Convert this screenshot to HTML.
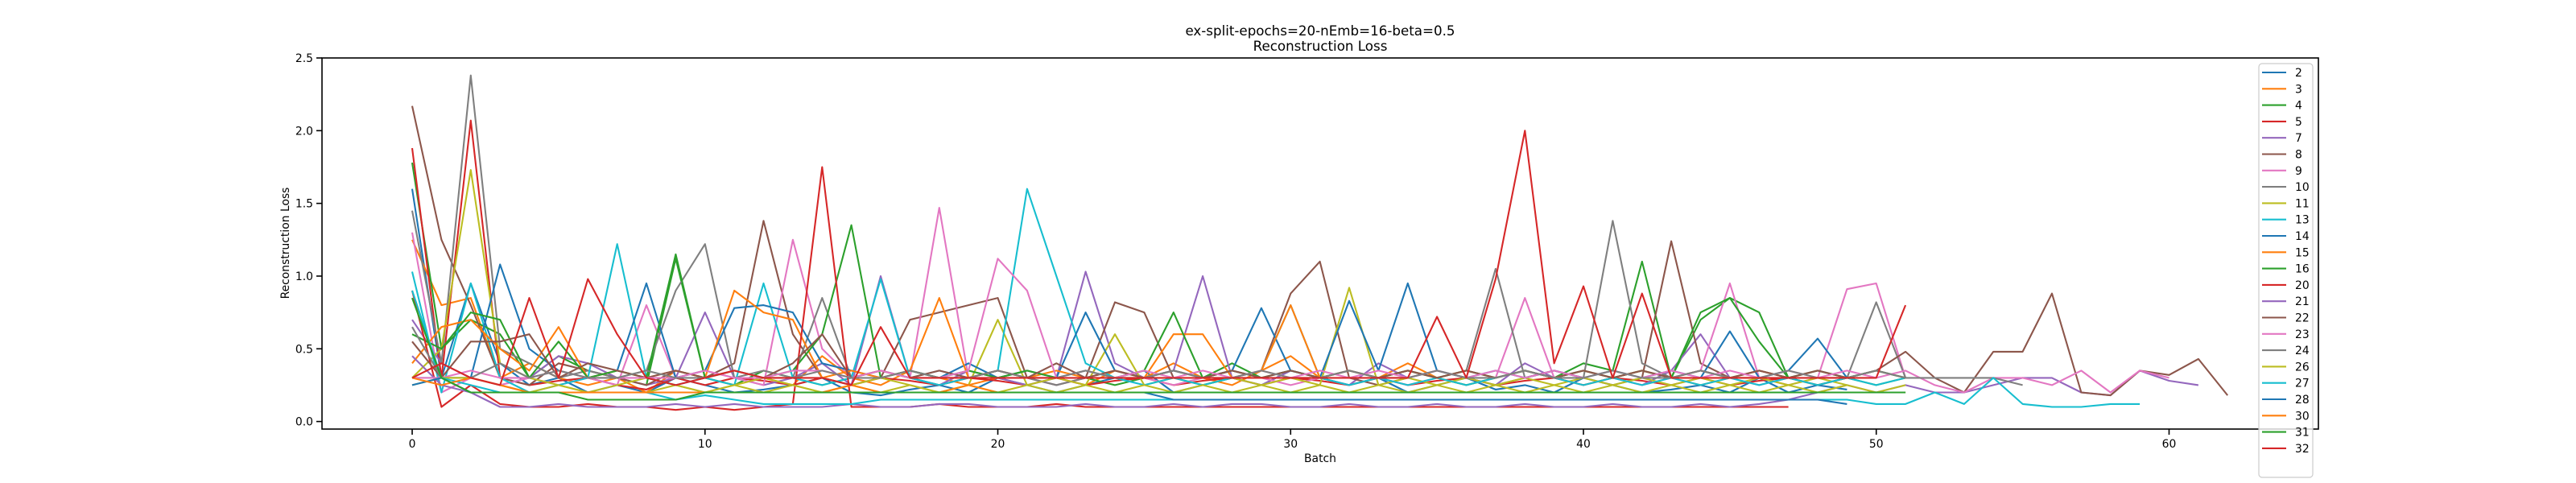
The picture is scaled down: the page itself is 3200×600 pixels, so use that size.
<!DOCTYPE html>
<html><head><meta charset="utf-8"><style>
html,body{margin:0;padding:0;background:#fff;}
svg{display:block;font-family:"DejaVu Sans","Liberation Sans",sans-serif;}
</style></head><body>
<svg id="chart" width="3200" height="600" viewBox="0 0 3200 600" xmlns="http://www.w3.org/2000/svg">
<rect width="3200" height="600" fill="#fff"/>
<text x="1640" y="44" font-size="16.7" text-anchor="middle">ex-split-epochs=20-nEmb=16-beta=0.5</text>
<text x="1640" y="63" font-size="16.7" text-anchor="middle">Reconstruction Loss</text>
<g id="series"></g>
<g id="axes"></g>
<text x="1640" y="574" font-size="13.9" text-anchor="middle">Batch</text>
<text transform="translate(359,302) rotate(-90)" font-size="13.9" text-anchor="middle">Reconstruction Loss</text>
<g id="legend"></g>
</svg>
<script>
const labels = ["2","3","4","5","7","8","9","10","11","13","14","15","16","20","21","22","23","24","26","27","28","30","31","32"];
const colors = ["#1f77b4","#ff7f0e","#2ca02c","#d62728","#9467bd","#8c564b","#e377c2","#7f7f7f","#bcbd22","#17becf"];
const s2=[1.6,0.3,0.95,0.4,0.25,0.3,0.2,0.25,0.2,0.3,0.25,0.2,0.22,0.25,0.3,0.2,0.18,0.22,0.25,0.2,0.3,0.25,0.2,0.25,0.3,0.35,0.2,0.25,0.3,0.25,0.35,0.3,0.25,0.3,0.2,0.25,0.3,0.22,0.25,0.2,0.3,0.25,0.2,0.22,0.25,0.2,0.3,0.2,0.25,0.22];
const s3=[1.25,0.8,0.85,0.3,0.4,0.3,0.25,0.3,0.2,0.35,0.3,0.25,0.3,0.25,0.45,0.3,0.25,0.35,0.3,0.25,0.3,0.35,0.3,0.25,0.35,0.3,0.4,0.3,0.25,0.35,0.45,0.3,0.35,0.3,0.4,0.3,0.25,0.3,0.35,0.3,0.25,0.3,0.35,0.3,0.25,0.3,0.3,0.25];
const s4=[1.78,0.5,0.7,0.6,0.3,0.45,0.35,0.3,0.25,1.12,0.3,0.25,0.35,0.3,0.25,0.3,0.35,0.3,0.25,0.3,0.35,0.3,0.25,0.3,0.25,0.3,0.35,0.3,0.4,0.3,0.35,0.3,0.25,0.3,0.35,0.3,0.25,0.3,0.35,0.3,0.4,0.35,1.1,0.3,0.7,0.85,0.75,0.3,0.25,0.3,0.25,0.3];
const s5=[1.88,0.3,2.07,0.3,0.25,0.28,0.3,0.25,0.22,0.3,0.25,0.3,0.28,0.25,0.3,0.25,0.3,0.28,0.25,0.3,0.28,0.25,0.3,0.25,0.28,0.3,0.25,0.28,0.3,0.25,0.3,0.28,0.25,0.3,0.25,0.28,0.3,0.25,0.28,0.3,0.25,0.3,0.28,0.25,0.3,0.25,0.28,0.3,0.25,0.3];
const s7=[0.7,0.4,0.3,0.25,0.3,0.45,0.4,0.3,0.25,0.3,0.75,0.3,0.25,0.3,0.4,0.25,1.0,0.3,0.25,0.35,0.3,0.25,0.3,1.03,0.4,0.3,0.35,1.0,0.3,0.25,0.35,0.3,0.25,0.4,0.3,0.35,0.3,0.25,0.4,0.3,0.35,0.3,0.25,0.35,0.6,0.3,0.25,0.3,0.35,0.3];
const s8=[2.17,1.25,0.8,0.3,0.25,0.4,0.35,0.3,0.25,0.35,0.3,0.4,1.38,0.6,0.3,0.25,0.3,0.7,0.75,0.8,0.85,0.3,0.25,0.3,0.82,0.75,0.3,0.25,0.3,0.35,0.88,1.1,0.3,0.25,0.3,0.35,0.3,0.25,0.3,0.35,0.3,0.25,0.3,1.24,0.4,0.3,0.35,0.3,0.25,0.3,0.35,0.3];
const s9=[1.3,0.2,0.3,0.25,0.3,0.25,0.3,0.25,0.8,0.3,0.35,0.3,0.25,1.25,0.5,0.3,0.35,0.3,1.47,0.3,0.35,0.3,0.25,0.3,0.35,0.3,0.25,0.3,0.35,0.3,0.25,0.3,0.35,0.3,0.25,0.3,0.35,0.3,0.85,0.3,0.35,0.3,0.25,0.3,0.35,0.95,0.3,0.25,0.3,0.91,0.95,0.3];
const s10=[1.45,0.4,2.38,0.5,0.4,0.3,0.35,0.3,0.35,0.9,1.22,0.3,0.35,0.3,0.85,0.3,0.35,0.3,0.35,0.3,0.35,0.3,0.25,0.3,0.35,0.3,0.35,0.3,0.35,0.3,0.35,0.3,0.35,0.3,0.35,0.3,0.35,1.05,0.3,0.35,0.3,1.38,0.4,0.3,0.35,0.3,0.35,0.3,0.35,0.3,0.82,0.3];
const s11=[0.3,0.5,1.73,0.4,0.3,0.25,0.2,0.25,0.3,0.25,0.2,0.25,0.3,0.25,0.2,0.25,0.3,0.25,0.2,0.25,0.7,0.25,0.3,0.25,0.6,0.25,0.3,0.25,0.3,0.25,0.3,0.25,0.92,0.25,0.3,0.25,0.3,0.25,0.3,0.25,0.3,0.25,0.3,0.25,0.3,0.25,0.3,0.25,0.3,0.25];
const s13=[1.03,0.2,0.95,0.3,0.2,0.25,0.3,1.22,0.3,0.25,0.3,0.25,0.95,0.3,0.25,0.3,0.98,0.3,0.25,0.3,0.35,1.6,1.0,0.4,0.3,0.25,0.3,0.25,0.3,0.35,0.8,0.3,0.25,0.3,0.25,0.3,0.25,0.3,0.35,0.3,0.25,0.3,0.25,0.3,0.25,0.3,0.25,0.3,0.25,0.3,0.25,0.3];
const s14=[0.3,0.3,0.3,1.08,0.5,0.35,0.3,0.35,0.95,0.3,0.35,0.78,0.8,0.75,0.4,0.35,0.3,0.35,0.3,0.4,0.3,0.35,0.3,0.75,0.35,0.3,0.35,0.3,0.35,0.78,0.35,0.3,0.83,0.35,0.95,0.35,0.3,0.35,0.3,0.35,0.3,0.35,0.3,0.35,0.3,0.62,0.3,0.35,0.57,0.3,0.35,0.3];
const s15=[0.4,0.65,0.7,0.5,0.35,0.65,0.3,0.35,0.3,0.35,0.3,0.9,0.75,0.7,0.3,0.35,0.3,0.35,0.85,0.3,0.35,0.3,0.35,0.3,0.35,0.3,0.6,0.6,0.3,0.35,0.8,0.3,0.35,0.3,0.35,0.3,0.35,0.3,0.35,0.3,0.35,0.3,0.35,0.3,0.35,0.3,0.35,0.3,0.35,0.3,0.35,0.3];
const s16=[0.6,0.5,0.75,0.7,0.3,0.55,0.3,0.35,0.3,1.15,0.3,0.35,0.3,0.35,0.6,1.35,0.3,0.35,0.3,0.35,0.3,0.35,0.3,0.35,0.3,0.35,0.75,0.3,0.35,0.3,0.35,0.3,0.35,0.3,0.35,0.3,0.35,0.3,0.35,0.3,0.35,0.3,0.35,0.3,0.75,0.85,0.55,0.3,0.35,0.3,0.35,0.3];
const s20=[0.9,0.1,0.25,0.12,0.1,0.1,0.12,0.1,0.1,0.08,0.1,0.08,0.1,0.12,1.75,0.1,0.1,0.1,0.12,0.1,0.1,0.1,0.12,0.1,0.1,0.1,0.1,0.1,0.1,0.1,0.1,0.1,0.1,0.1,0.1,0.1,0.1,0.1,0.1,0.1,0.1,0.1,0.1,0.1,0.1,0.1,0.1,0.1];
const s21=[0.45,0.25,0.2,0.1,0.1,0.12,0.1,0.1,0.1,0.12,0.1,0.12,0.1,0.1,0.1,0.12,0.1,0.1,0.12,0.12,0.1,0.1,0.1,0.12,0.1,0.1,0.12,0.1,0.12,0.12,0.1,0.1,0.12,0.1,0.1,0.12,0.1,0.1,0.12,0.1,0.1,0.12,0.1,0.1,0.12,0.1,0.12,0.15,0.2,0.25,0.2,0.25,0.2,0.2,0.25,0.3,0.3,0.2,0.18,0.35,0.28,0.25];
const s22=[0.55,0.3,0.55,0.55,0.6,0.3,0.4,0.35,0.3,0.35,0.3,0.35,0.3,0.4,0.6,0.3,0.35,0.3,0.35,0.3,0.35,0.3,0.4,0.3,0.35,0.3,0.35,0.3,0.35,0.3,0.35,0.3,0.35,0.3,0.35,0.3,0.35,0.3,0.35,0.3,0.35,0.3,0.35,0.3,0.35,0.3,0.35,0.3,0.35,0.3,0.35,0.48,0.3,0.2,0.48,0.48,0.88,0.2,0.18,0.35,0.32,0.43,0.18];
const s23=[0.3,0.3,0.35,0.3,0.3,0.35,0.3,0.3,0.3,0.3,0.35,0.3,0.3,0.35,0.35,0.3,0.35,0.3,0.3,0.35,1.12,0.9,0.3,0.35,0.3,0.35,0.3,0.35,0.3,0.35,0.3,0.35,0.3,0.35,0.3,0.35,0.3,0.35,0.3,0.35,0.3,0.35,0.3,0.35,0.3,0.35,0.3,0.35,0.3,0.35,0.3,0.35,0.25,0.2,0.3,0.3,0.25,0.35,0.2,0.35,0.3];
const s24=[0.65,0.3,0.3,0.4,0.3,0.35,0.3,0.3,0.35,0.3,0.3,0.35,0.3,0.3,0.35,0.3,0.3,0.35,0.3,0.3,0.35,0.3,0.3,0.35,0.3,0.3,0.35,0.3,0.3,0.35,0.3,0.3,0.35,0.3,0.3,0.35,0.3,0.3,0.35,0.3,0.3,0.35,0.3,0.3,0.35,0.3,0.3,0.35,0.3,0.3,0.35,0.3,0.3,0.3,0.3,0.25];
const s26=[0.25,0.3,0.3,0.25,0.2,0.25,0.2,0.2,0.2,0.25,0.2,0.25,0.2,0.25,0.2,0.25,0.2,0.25,0.2,0.25,0.2,0.25,0.2,0.25,0.2,0.25,0.2,0.25,0.2,0.25,0.2,0.25,0.2,0.25,0.2,0.25,0.2,0.25,0.2,0.25,0.2,0.25,0.2,0.25,0.2,0.25,0.2,0.25,0.2,0.25,0.2,0.25];
const s27=[0.9,0.3,0.25,0.2,0.2,0.2,0.2,0.2,0.2,0.15,0.18,0.15,0.12,0.12,0.12,0.12,0.15,0.15,0.15,0.15,0.15,0.15,0.15,0.15,0.15,0.15,0.15,0.15,0.15,0.15,0.15,0.15,0.15,0.15,0.15,0.15,0.15,0.15,0.15,0.15,0.15,0.15,0.15,0.15,0.15,0.15,0.15,0.15,0.15,0.15,0.12,0.12,0.2,0.12,0.3,0.12,0.1,0.1,0.12,0.12];
const s28=[0.25,0.3,0.2,0.2,0.2,0.2,0.2,0.2,0.2,0.2,0.2,0.2,0.2,0.2,0.2,0.2,0.2,0.2,0.2,0.2,0.2,0.2,0.2,0.2,0.2,0.2,0.15,0.15,0.15,0.15,0.15,0.15,0.15,0.15,0.15,0.15,0.15,0.15,0.15,0.15,0.15,0.15,0.15,0.15,0.15,0.15,0.15,0.15,0.15,0.12];
const s30=[0.3,0.25,0.3,0.25,0.2,0.2,0.2,0.2,0.2,0.2,0.2,0.2,0.2,0.2,0.2,0.25,0.2,0.2,0.2,0.25,0.2,0.2,0.2,0.2,0.2,0.2,0.2,0.2,0.2,0.2,0.2,0.2,0.2,0.2,0.2,0.2,0.2,0.2,0.2,0.2,0.2,0.2,0.2,0.2,0.2,0.2,0.2,0.2,0.2,0.2,0.2,0.2];
const s31=[0.85,0.3,0.2,0.2,0.2,0.2,0.15,0.15,0.15,0.15,0.2,0.2,0.2,0.2,0.2,0.2,0.2,0.2,0.2,0.2,0.2,0.2,0.2,0.2,0.2,0.2,0.2,0.2,0.2,0.2,0.2,0.2,0.2,0.2,0.2,0.2,0.2,0.2,0.2,0.2,0.2,0.2,0.2,0.2,0.2,0.2,0.2,0.2,0.2,0.2,0.2,0.2];
const s32=[0.3,0.4,0.3,0.25,0.85,0.3,0.98,0.6,0.3,0.25,0.3,0.35,0.3,0.3,0.3,0.25,0.65,0.3,0.3,0.3,0.3,0.3,0.3,0.3,0.3,0.3,0.3,0.3,0.3,0.3,0.3,0.3,0.3,0.3,0.3,0.72,0.3,0.98,2.0,0.4,0.93,0.3,0.88,0.3,0.3,0.3,0.3,0.3,0.3,0.3,0.3,0.8];
const seriesValues=[s2,s3,s4,s5,s7,s8,s9,s10,s11,s13,s14,s15,s16,s20,s21,s22,s23,s24,s26,s27,s28,s30,s31,s32];
const xTicks=[0,10,20,30,40,50,60];
const yTicks=[0.0,0.5,1.0,1.5,2.0,2.5];

const NS="http://www.w3.org/2000/svg";
const PL=400,PR=2880,PT=72,PB=533;
const XMIN=-3.08,XMAX=65.1,YMIN=-0.052,YMAX=2.5;
function xs(v){return PL+(v-XMIN)/(XMAX-XMIN)*(PR-PL);}
function ys(v){return PB-(v-YMIN)/(YMAX-YMIN)*(PB-PT);}
function mk(tag,attrs,parent){const e=document.createElementNS(NS,tag);for(const k in attrs)e.setAttribute(k,attrs[k]);parent.appendChild(e);return e;}

const sg=document.getElementById('series');
seriesValues.forEach((vals,i)=>{
  const d=vals.map((v,j)=>(j?'L':'M')+xs(j).toFixed(1)+' '+ys(v).toFixed(1)).join(' ');
  const p=mk('path',{d:d,fill:'none',stroke:colors[i%10],'stroke-width':2.1,'stroke-linejoin':'round'},sg);
  
  
});

const ag=document.getElementById('axes');
const frame=mk('rect',{x:PL,y:PT,width:PR-PL,height:PB-PT,fill:'none',stroke:'#000','stroke-width':1.6},ag);


xTicks.forEach(t=>{
  const x=xs(t);
  mk('line',{x1:x,x2:x,y1:PB,y2:PB+7,stroke:'#000','stroke-width':1.6},ag);
  const tx=mk('text',{x:x,y:PB+23,'font-size':13.9,'text-anchor':'middle'},ag);
  tx.textContent=String(t);
  
  
});
yTicks.forEach(t=>{
  const y=ys(t);
  mk('line',{x1:PL-7,x2:PL,y1:y,y2:y,stroke:'#000','stroke-width':1.6},ag);
  const tx=mk('text',{x:PL-11,y:y+5,'font-size':13.9,'text-anchor':'end'},ag);
  tx.textContent=t.toFixed(1);
  
  
});

const lg=document.getElementById('legend');
const box=mk('rect',{x:2806,y:79,width:67,height:514,rx:4,fill:'#fff','fill-opacity':0.8,stroke:'#ccc','stroke-width':1.2},lg);


labels.forEach((l,i)=>{
  const y=90+i*20.3;
  const ln=mk('line',{x1:2810,x2:2840,y1:y,y2:y,stroke:colors[i%10],'stroke-width':2.1},lg);
  
  
  const tx=mk('text',{x:2851,y:y+5,'font-size':13.9},lg);
  tx.textContent=l;
  
  
});
</script>
</body></html>
